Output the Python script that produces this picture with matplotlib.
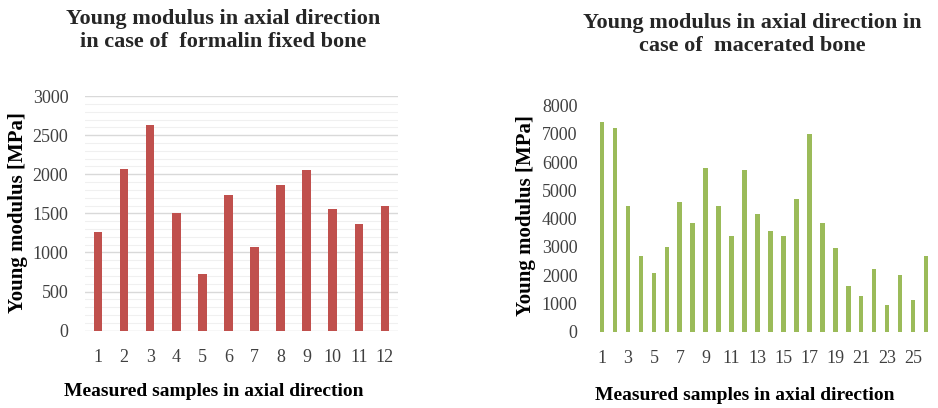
import matplotlib
matplotlib.use("Agg")
import matplotlib.pyplot as plt
from matplotlib.ticker import MultipleLocator

plt.rcParams['font.family'] = ['Liberation Serif', 'DejaVu Serif']

# Data
left_samples = list(range(1, 13))
left_values = [1260, 2070, 2630, 1510, 720, 1740, 1070, 1860, 2060, 1550, 1360, 1590]
right_samples = list(range(1, 27))
right_values = [7430, 7220, 4450, 2680, 2090, 2990, 4580, 3860, 5800, 4440, 3370, 5720, 4170,
                3550, 3380, 4680, 6980, 3830, 2950, 1610, 1280, 2210, 950, 2000, 1130, 2680]
left_title = "Young modulus in axial direction\nin case of  formalin fixed bone"
right_title = "Young modulus in axial direction in\ncase of  macerated bone"
ylabel = "Young modulus [MPa]"
xlabel = "Measured samples in axial direction"

red = "#C0504D"
green = "#9BBB59"
txt = "#404040"

W, H = 938, 408
fig = plt.figure(figsize=(9.38, 4.08), dpi=100)

# Left chart
ax1 = fig.add_axes([0.0906, 0.1895, 0.3337, 0.575])
ax1.bar(left_samples, left_values, width=0.33, color=red, zorder=3)
ax1.set_xlim(0.5, 12.5)
ax1.set_ylim(0, 3000)
ax1.yaxis.set_major_locator(MultipleLocator(500))
ax1.yaxis.set_minor_locator(MultipleLocator(100))
ax1.grid(axis='y', which='major', color='#D9D9D9', linewidth=1.0, zorder=0)
ax1.grid(axis='y', which='minor', color='#F0F0F0', linewidth=0.8, zorder=0)
ax1.set_xticks(left_samples)
ax1.set_xticklabels([str(s) for s in left_samples])
for s in ax1.spines.values():
    s.set_visible(False)
ax1.tick_params(axis='both', which='both', length=0, labelsize=13, colors=txt, labelcolor=txt)
ax1.tick_params(axis='x', pad=13)
ax1.tick_params(axis='y', pad=12)
fig.text(18 / W, 1 - 213 / H, ylabel, rotation=90, ha='center', va='center',
         fontsize=15, fontweight='bold', color='black')
fig.text(214 / W, 1 - 392 / H, xlabel, ha='center', va='center',
         fontsize=14, fontweight='bold', color='black')
fig.text(223 / W, 1 - 9 / H, left_title, ha='center', va='top', fontsize=16,
         fontweight='bold', color='#262626', linespacing=1.2)

# Right chart
ax2 = fig.add_axes([0.635, 0.187, 0.359, 0.554])
ax2.bar(right_samples, right_values, width=0.36, color=green, zorder=3)
ax2.set_xlim(0.5, 26.5)
ax2.set_ylim(0, 8000)
ax2.yaxis.set_major_locator(MultipleLocator(1000))
ax2.set_xticks(right_samples[::2])
ax2.set_xticklabels([str(s) for s in right_samples[::2]])
for s in ax2.spines.values():
    s.set_visible(False)
ax2.tick_params(axis='both', which='both', length=0, labelsize=13, colors=txt, labelcolor=txt)
ax2.tick_params(axis='x', pad=13)
ax2.tick_params(axis='y', pad=13)
fig.text(526 / W, 1 - 216 / H, ylabel, rotation=90, ha='center', va='center',
         fontsize=15, fontweight='bold', color='black')
fig.text(745 / W, 1 - 395 / H, xlabel, ha='center', va='center',
         fontsize=14, fontweight='bold', color='black')
fig.text(752 / W, 1 - 13 / H, right_title, ha='center', va='top', fontsize=16,
         fontweight='bold', color='#262626', linespacing=1.2)

fig.savefig("out.png", dpi=100)
